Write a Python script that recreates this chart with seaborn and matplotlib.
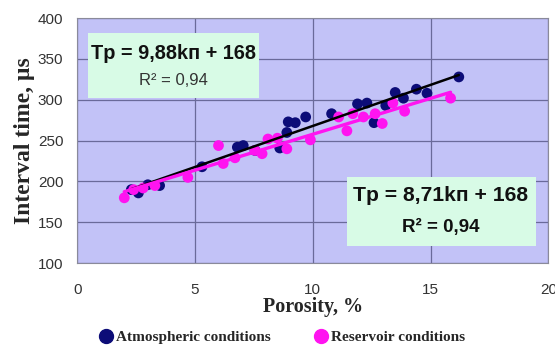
import matplotlib
matplotlib.use("Agg")
import matplotlib.pyplot as plt
import pandas as pd
import seaborn as sns
from matplotlib.patches import Rectangle
from matplotlib.lines import Line2D

# -----------------------------
# Data
# -----------------------------
atm_porosity = [2.3, 2.6, 3.0, 3.5, 5.3, 6.8, 7.05, 7.55, 8.6, 8.9, 8.96, 9.26,
                9.7, 10.8, 11.9, 12.3, 12.6, 13.1, 13.5, 13.85, 14.4, 14.85, 16.2]
atm_time = [190, 186, 196, 195, 218, 242, 244, 238, 241, 260, 273, 272,
            279, 283, 295, 296, 272, 293, 309, 302, 313, 308, 328]

res_porosity = [2.0, 2.4, 2.8, 3.3, 4.7, 6.0, 6.2, 6.7, 7.55, 7.85, 8.1, 8.5,
                8.9, 9.9, 11.1, 11.45, 11.7, 12.15, 12.65, 12.95, 13.4, 13.9, 15.85]
res_time = [180, 190, 192, 195, 205, 244, 222, 229, 238, 234, 252, 253,
            240, 251, 279, 262, 283, 279, 283, 271, 296, 286, 302]

labels = ["Atmospheric conditions", "Reservoir conditions"]
eq_atm = ["Tp = 9,88kп + 168", "R² = 0,94"]
eq_res = ["Tp = 8,71kп + 168", "R² = 0,94"]
x_ticks = [0, 5, 10, 15, 20]
y_ticks = [100, 150, 200, 250, 300, 350, 400]

df_atm = pd.DataFrame({"porosity": atm_porosity, "time": atm_time})
df_res = pd.DataFrame({"porosity": res_porosity, "time": res_time})

navy = "#0c0c78"
magenta = "#ff14f0"

# -----------------------------
# Figure
# -----------------------------
sns.set_style("white")
fig = plt.figure(figsize=(5.55, 3.49), dpi=100)
ax = fig.add_axes([0.139, 0.246, 0.849, 0.702])
ax.set_facecolor("#c2c2f7")

sns.scatterplot(data=df_atm, x="porosity", y="time", ax=ax, color=navy,
                s=60, edgecolor="none", zorder=3)
sns.scatterplot(data=df_res, x="porosity", y="time", ax=ax, color=magenta,
                s=60, edgecolor="none", zorder=3)
sns.regplot(data=df_atm, x="porosity", y="time", ax=ax, scatter=False, ci=None,
            line_kws={"color": "black", "lw": 1.8, "zorder": 4})
sns.regplot(data=df_res, x="porosity", y="time", ax=ax, scatter=False, ci=None,
            line_kws={"color": magenta, "lw": 2.4, "zorder": 4})

ax.set_xlim(0, 20)
ax.set_ylim(100, 400)
ax.set_xticks(x_ticks)
ax.set_yticks(y_ticks)
ax.grid(True, color="#6a6a9a", lw=0.9)
ax.set_axisbelow(True)
for s in ax.spines.values():
    s.set_color("#8a8a9a")
ax.tick_params(axis="both", length=5, color="#606060", labelsize=11,
               labelcolor="#333333", direction="out")
ax.tick_params(axis="x", pad=9)
ax.tick_params(axis="y", pad=5)
for lbl in ax.get_xticklabels() + ax.get_yticklabels():
    lbl.set_family("Liberation Sans")

ax.set_xlabel("Porosity, %", family="Liberation Serif", fontweight="bold",
              fontsize=14.5, labelpad=0)
ax.set_ylabel("Interval time, µs", family="Liberation Serif", fontweight="bold",
              fontsize=17, labelpad=2)

# -----------------------------
# Equation boxes
# -----------------------------
ax.add_patch(Rectangle((0.023, 0.673), 0.362, 0.266, transform=ax.transAxes,
                       facecolor="#d8fbe6", edgecolor="none", zorder=5))
ax.text(0.204, 0.856, eq_atm[0], transform=ax.transAxes, ha="center", va="center",
        family="Liberation Sans", fontweight="bold", fontsize=14.3, color="#111111", zorder=6)
ax.text(0.204, 0.746, eq_atm[1], transform=ax.transAxes, ha="center", va="center",
        family="Liberation Sans", fontsize=12, color="#333333", zorder=6)

ax.add_patch(Rectangle((0.573, 0.069), 0.4, 0.282, transform=ax.transAxes,
                       facecolor="#d8fbe6", edgecolor="none", zorder=5))
ax.text(0.771, 0.278, eq_res[0], transform=ax.transAxes, ha="center", va="center",
        family="Liberation Sans", fontweight="bold", fontsize=15.2, color="#111111", zorder=6)
ax.text(0.771, 0.147, eq_res[1], transform=ax.transAxes, ha="center", va="center",
        family="Liberation Sans", fontweight="bold", fontsize=13.5, color="#111111", zorder=6)

# -----------------------------
# Legend
# -----------------------------
handles = [Line2D([], [], marker="o", ls="none", color=navy, markersize=10),
           Line2D([], [], marker="o", ls="none", color=magenta, markersize=10)]
fig.legend(handles, labels, loc="center", bbox_to_anchor=(0.507, 0.034), ncol=2,
           frameon=False, handlelength=1.0, handletextpad=0.15, columnspacing=2.8,
           borderpad=0.1, prop={"family": "Liberation Serif", "weight": "bold", "size": 11})

fig.savefig("out.png", dpi=100)
